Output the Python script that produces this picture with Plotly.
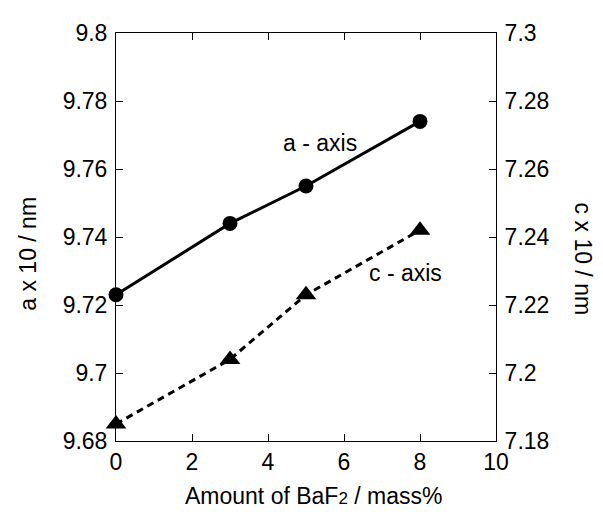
import plotly.graph_objects as go

# Data
amount_baf2 = [0, 3, 5, 8]
a_axis = [9.723, 9.744, 9.755, 9.774]
c_axis = [7.185, 7.204, 7.223, 7.242]

x_ticks = [0, 2, 4, 6, 8, 10]
a_ticks = [9.68, 9.70, 9.72, 9.74, 9.76, 9.78, 9.80]
a_ticktext = ["9.68", "9.7", "9.72", "9.74", "9.76", "9.78", "9.8"]
c_ticks = [7.18, 7.20, 7.22, 7.24, 7.26, 7.28, 7.30]
c_ticktext = ["7.18", "7.2", "7.22", "7.24", "7.26", "7.28", "7.3"]

FONT = "Liberation Sans, Arial, sans-serif"
FS = 23

fig = go.Figure()
fig.add_trace(go.Scatter(
    x=amount_baf2, y=a_axis, mode="lines+markers", name="a - axis",
    line=dict(color="black", width=3),
    marker=dict(symbol="circle", size=15, color="black"),
    yaxis="y", cliponaxis=False,
))
fig.add_trace(go.Scatter(
    x=amount_baf2, y=c_axis, mode="lines+markers", name="c - axis",
    line=dict(color="black", width=3, dash="7px,5px"),
    marker=dict(symbol="triangle-up", size=18, color="black"),
    yaxis="y2", cliponaxis=False,
))

axis_common = dict(
    showgrid=False, zeroline=False, showline=True, linecolor="black", linewidth=1,
    ticks="inside", ticklen=7, tickcolor="black", tickwidth=1,
    tickfont=dict(family=FONT, size=FS, color="black"),
)

# page body has an 8px margin, so the figure is sized/offset to compensate
fig.update_layout(
    width=595, height=504,
    margin=dict(l=108, r=107, t=17, b=71),
    paper_bgcolor="white", plot_bgcolor="white",
    showlegend=False,
    font=dict(family=FONT, size=FS, color="black"),
    xaxis=dict(range=[0, 10], tickvals=x_ticks, mirror="ticks", **axis_common),
    yaxis=dict(range=[9.68, 9.80], tickvals=a_ticks, ticktext=a_ticktext,
               ticklabelstandoff=3, **axis_common),
    yaxis2=dict(range=[7.18, 7.30], tickvals=c_ticks, ticktext=c_ticktext,
                overlaying="y", side="right", ticklabelstandoff=3, **axis_common),
    annotations=[
        dict(text="a - axis", x=5.37, y=9.7677, xref="x", yref="y",
             xanchor="center", yanchor="middle",
             showarrow=False, font=dict(family=FONT, size=FS)),
        dict(text="c - axis", x=7.63, y=9.7293, xref="x", yref="y",
             xanchor="center", yanchor="middle",
             showarrow=False, font=dict(family=FONT, size=FS)),
        dict(text="a x 10 / nm", x=-0.2316, y=0.459, xref="paper", yref="paper",
             xanchor="center", yanchor="middle",
             textangle=-90, showarrow=False, font=dict(family=FONT, size=FS)),
        dict(text="c x 10 / nm", x=1.229, y=0.447, xref="paper", yref="paper",
             xanchor="center", yanchor="middle",
             textangle=90, showarrow=False, font=dict(family=FONT, size=FS)),
        dict(text="Amount of BaF<span style='font-size:17px'>2</span> / mass%",
             x=0.52, y=-0.1346, xref="paper", yref="paper",
             xanchor="center", yanchor="middle",
             showarrow=False, font=dict(family=FONT, size=FS)),
    ],
)

fig.write_html("out.html")
